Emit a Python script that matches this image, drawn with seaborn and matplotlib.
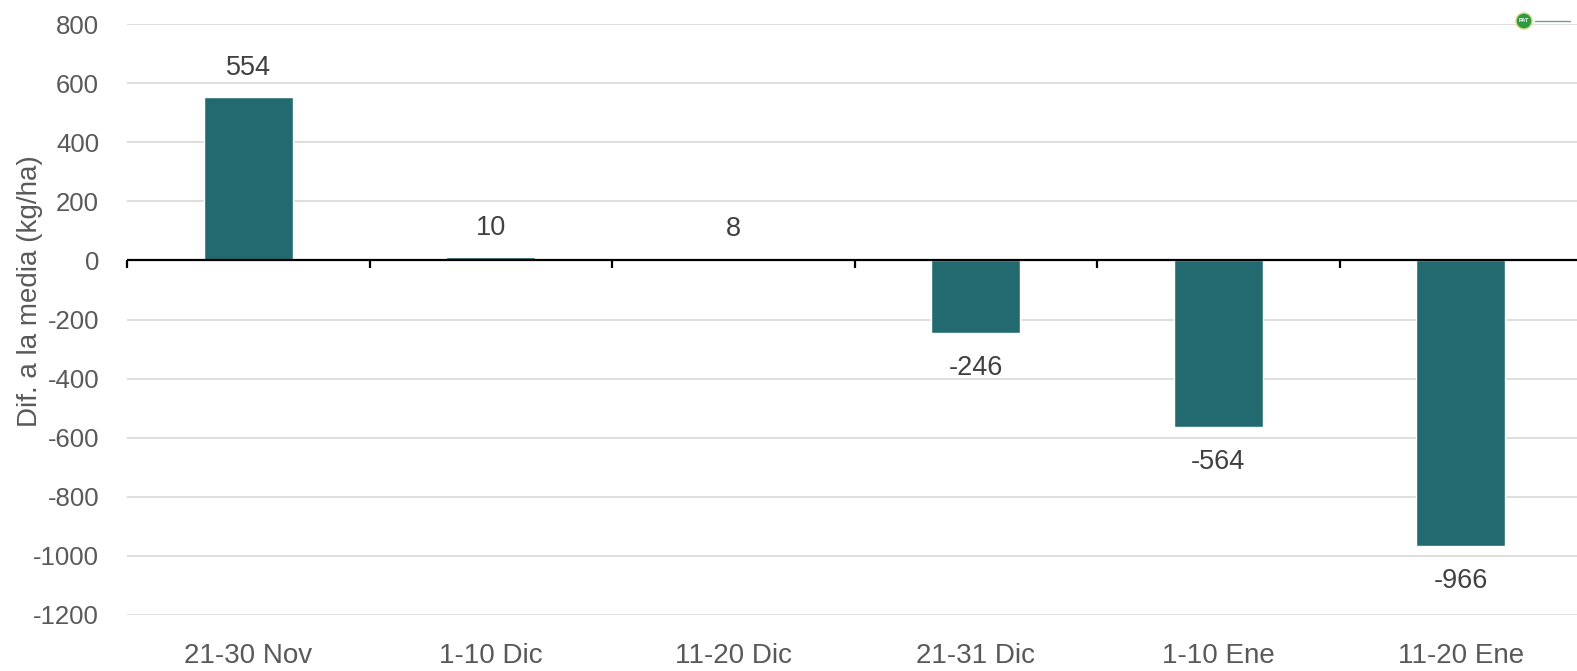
import numpy as np
import pandas as pd
import matplotlib
matplotlib.use("Agg")
import matplotlib.pyplot as plt
import seaborn as sns

periods = ["21-30 Nov", "1-10 Dic", "11-20 Dic", "21-31 Dic", "1-10 Ene", "11-20 Ene"]
dif_media = [554, 10, 8, -246, -564, -966]
y_ticks = [800, 600, 400, 200, 0, -200, -400, -600, -800, -1000, -1200]

df = pd.DataFrame({"periodo": periods, "dif": dif_media})

sns.set_style("white")
plt.rcParams["font.family"] = ["Liberation Sans", "DejaVu Sans"]
grey = "#595959"
bar_col = "#236a70"

fig = plt.figure(figsize=(15.77, 6.71), dpi=100)
ax = fig.add_axes([127 / 1577, 56 / 671, 1455 / 1577, 591 / 671])

sns.barplot(data=df, x="periodo", y="dif", color=bar_col, width=0.367,
            saturation=1, ax=ax, zorder=3)

ax.set_ylim(-1200, 800)
ax.set_xlim(-0.5, len(periods) - 0.5)
ax.set_yticks(y_ticks)
ax.set_yticklabels([str(t) for t in y_ticks], fontsize=18.5, color=grey)
ax.yaxis.grid(True, color="#d9d9d9", linewidth=1.2, zorder=0)
ax.tick_params(axis="y", length=0, pad=20)
ax.tick_params(axis="x", length=0, pad=20.5, labelsize=20, labelcolor=grey)
for s in ax.spines.values():
    s.set_visible(False)

# zero axis line with category ticks
ax.axhline(0, color="black", linewidth=1.6, zorder=4)
bounds = np.arange(len(periods) + 1) - 0.5
ax.vlines(bounds, -27, 0, color="black", linewidth=1.6, zorder=4, clip_on=False)

ax.set_xlabel("")
ax.set_ylabel("")
fig.text(30 / 1577, 1 - 291 / 671, "Dif. a la media (kg/ha)", rotation=90,
         fontsize=20, color=grey, ha="center", va="center")

for i, v in enumerate(dif_media):
    if v >= 0:
        ax.annotate(str(v), (i, v), xytext=(0, 16), textcoords="offset pixels",
                    ha="center", va="bottom", fontsize=19.5, color="#404040")
    else:
        ax.annotate(str(v), (i, v), xytext=(0, -22), textcoords="offset pixels",
                    ha="center", va="top", fontsize=19.5, color="#404040")

# small logo badge in the corner
fig.add_artist(plt.Line2D([1535 / 1577, 1570 / 1577], [650 / 671, 650 / 671],
                          color="#7a9a90", linewidth=1, transform=fig.transFigure))
fig.add_artist(matplotlib.patches.Ellipse((1524 / 1577, 650 / 671), 16 / 1577, 16 / 671,
                                          transform=fig.transFigure, color="#2e9a3f",
                                          ec="#d6d88a", lw=1))
fig.text(1524 / 1577, 650 / 671, "PAT", fontsize=4, color="white", ha="center",
         va="center", weight="bold")

fig.savefig("out.png", dpi=100)
